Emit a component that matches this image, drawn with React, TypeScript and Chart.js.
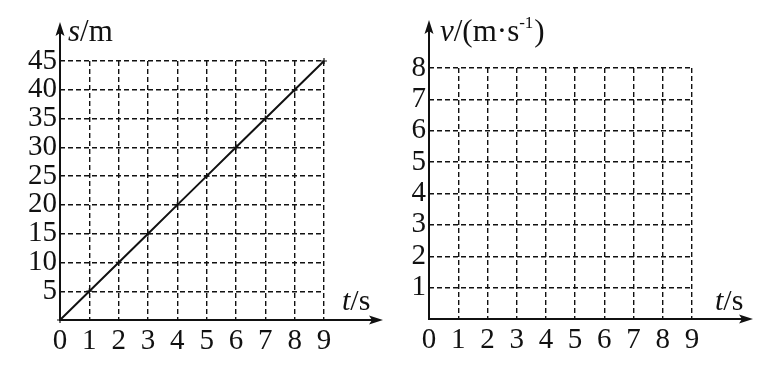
import React, { useEffect, useRef } from "react";
import { Chart, registerables } from "chart.js";

Chart.register(...registerables);

// ---- data ----
const T_VALUES = [0, 1, 2, 3, 4, 5, 6, 7, 8, 9];
const S_VALUES = [0, 5, 10, 15, 20, 25, 30, 35, 40, 45];
const S_TICKS = [5, 10, 15, 20, 25, 30, 35, 40, 45];
const V_TICKS = [1, 2, 3, 4, 5, 6, 7, 8];
const T_MAX = 9;
const S_MAX = 45;
const V_MAX = 8;

const FONT = "'Liberation Serif', 'Times New Roman', serif";
const INK = "#111";

type TitlePart = { text: string; italic?: boolean; sup?: boolean };

function drawParts(ctx: CanvasRenderingContext2D, parts: TitlePart[], x: number, y: number, size: number) {
  let cx = x;
  for (const p of parts) {
    const sz = p.sup ? Math.round(size * 0.55) : size;
    ctx.font = `${p.italic ? "italic " : ""}${sz}px ${FONT}`;
    const yy = p.sup ? y - size * 0.42 : y;
    ctx.fillText(p.text, cx, yy);
    cx += ctx.measureText(p.text).width + (p.sup ? 1 : 0);
  }
}

function arrowHead(ctx: CanvasRenderingContext2D, x: number, y: number, dir: "right" | "up") {
  const L = 14, W = 4.5, N = 3;
  ctx.beginPath();
  if (dir === "right") {
    ctx.moveTo(x, y);
    ctx.lineTo(x - L, y - W);
    ctx.lineTo(x - L + N, y);
    ctx.lineTo(x - L, y + W);
  } else {
    ctx.moveTo(x, y);
    ctx.lineTo(x - W, y + L);
    ctx.lineTo(x, y + L - N);
    ctx.lineTo(x + W, y + L);
  }
  ctx.closePath();
  ctx.fill();
}

function makeAxesPlugin(cfg: {
  xExtra: number;
  yExtra: number;
  yTitle: TitlePart[];
  yTitleDx: number;
  xTitleDx: number;
}) {
  return {
    id: "physAxes",
    afterDraw(chart: any) {
      const { ctx, chartArea } = chart;
      const x0 = chart.scales.x.getPixelForValue(0);
      const y0 = chart.scales.y.getPixelForValue(0);
      const xEnd = chartArea.right + cfg.xExtra;
      const yEnd = chartArea.top - cfg.yExtra;
      ctx.save();
      ctx.strokeStyle = INK;
      ctx.fillStyle = INK;
      ctx.lineWidth = 2;
      ctx.setLineDash([]);
      ctx.beginPath();
      ctx.moveTo(x0 - 1, y0);
      ctx.lineTo(xEnd - 6, y0);
      ctx.moveTo(x0, y0 + 1);
      ctx.lineTo(x0, yEnd + 6);
      ctx.stroke();
      arrowHead(ctx, xEnd, y0, "right");
      arrowHead(ctx, x0, yEnd, "up");
      ctx.textBaseline = "alphabetic";
      ctx.textAlign = "left";
      drawParts(ctx, cfg.yTitle, x0 + cfg.yTitleDx, 41, 31);
      drawParts(ctx, [{ text: "t", italic: true }, { text: "/s" }], chartArea.right + cfg.xTitleDx, 310, 30);
      ctx.restore();
    },
  };
}

function buildOptions(yMax: number, yTicks: number[], padTop: number, padRight: number, yWidth: number, xHeight: number) {
  return {
    responsive: false,
    animation: false as const,
    events: [],
    layout: { padding: { top: padTop, right: padRight, left: 0, bottom: 0 } },
    plugins: { legend: { display: false }, tooltip: { enabled: false }, title: { display: false } },
    scales: {
      x: {
        type: "linear" as const,
        min: 0,
        max: T_MAX,
        afterBuildTicks: (s: any) => {
          s.ticks = T_VALUES.map((v) => ({ value: v }));
        },
        afterFit: (s: any) => {
          s.height = xHeight;
        },
        ticks: {
          color: INK,
          font: { family: FONT, size: 29 },
          padding: 4,
          maxRotation: 0,
          autoSkip: false,
          callback: (v: any) => String(v),
        },
        grid: {
          color: INK,
          lineWidth: 1.4,
          drawTicks: false,
        },
        border: { display: false, dash: [5, 3] },
      },
      y: {
        type: "linear" as const,
        min: 0,
        max: yMax,
        afterBuildTicks: (s: any) => {
          s.ticks = [0, ...yTicks].map((v) => ({ value: v }));
        },
        afterFit: (s: any) => {
          s.width = yWidth;
        },
        ticks: {
          color: INK,
          font: { family: FONT, size: 29 },
          padding: 3,
          autoSkip: false,
          callback: (v: any) => (v === 0 ? "" : String(v)),
        },
        grid: {
          color: INK,
          lineWidth: 1.4,
          drawTicks: false,
        },
        border: { display: false, dash: [5, 3] },
      },
    },
  };
}

function SChart() {
  const ref = useRef<HTMLCanvasElement>(null);
  useEffect(() => {
    if (!ref.current) return;
    const opts: any = buildOptions(S_MAX, S_TICKS, 61, 66, 60, 45);
    const chart = new Chart(ref.current, {
      type: "line",
      data: {
        datasets: [
          {
            data: T_VALUES.map((t, i) => ({ x: t, y: S_VALUES[i] })),
            borderColor: INK,
            borderWidth: 2,
            pointStyle: "cross",
            pointRadius: 3,
            pointBorderWidth: 1.2,
            pointBorderColor: INK,
            tension: 0,
            clip: false as any,
          },
        ],
      },
      options: opts,
      plugins: [
        makeAxesPlugin({
          xExtra: 59,
          yExtra: 39,
          yTitle: [{ text: "s", italic: true }, { text: "/m" }],
          yTitleDx: 8,
          xTitleDx: 18,
        }),
      ],
    });
    return () => chart.destroy();
  }, []);
  return <canvas ref={ref} width={390} height={365} style={{ display: "block" }} />;
}

function VChart() {
  const ref = useRef<HTMLCanvasElement>(null);
  useEffect(() => {
    if (!ref.current) return;
    const opts: any = buildOptions(V_MAX, V_TICKS, 68, 76, 49, 46);
    const chart = new Chart(ref.current, {
      type: "line",
      data: { datasets: [{ data: [], borderColor: INK }] },
      options: opts,
      plugins: [
        makeAxesPlugin({
          xExtra: 61,
          yExtra: 48,
          yTitle: [
            { text: "v", italic: true },
            { text: "/(m·s" },
            { text: "-1", sup: true },
            { text: ")" },
          ],
          yTitleDx: 11,
          xTitleDx: 23,
        }),
      ],
    });
    return () => chart.destroy();
  }, []);
  return <canvas ref={ref} width={388} height={365} style={{ display: "block" }} />;
}

export default function App() {
  return (
    <div
      style={{
        position: "fixed",
        left: 0,
        top: 0,
        width: 768,
        height: 365,
        background: "#fff",
      }}
    >
      <div style={{ position: "absolute", left: 0, top: 0 }}>
        <SChart />
      </div>
      <div style={{ position: "absolute", left: 380, top: 0 }}>
        <VChart />
      </div>
    </div>
  );
}
